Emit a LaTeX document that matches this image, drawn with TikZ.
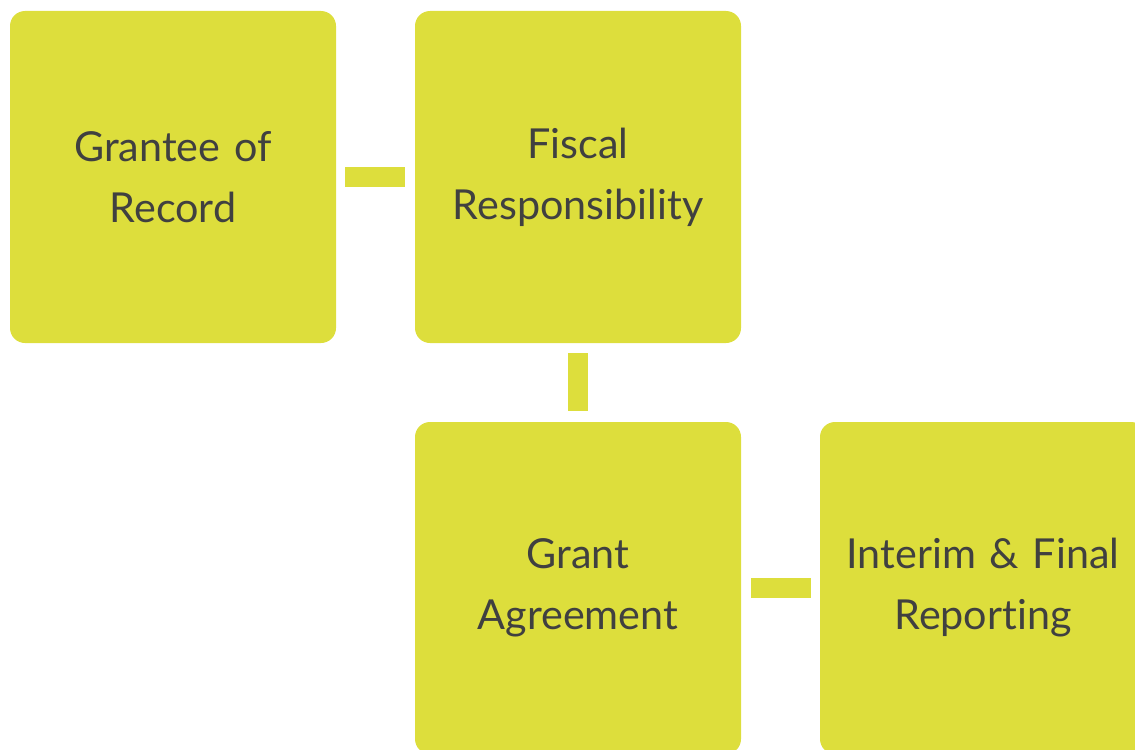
\documentclass[tikz,border=0pt]{standalone}
\usepackage{fontspec}
\setmainfont{Lato}[Ligatures=NoCommon]
\usetikzlibrary{shapes.geometric, arrows}
\definecolor{boxgreen}{RGB}{221,222,60}
\definecolor{boxtext}{RGB}{64,64,64}
\tikzstyle{stage} = [rectangle, rounded corners=0.3cm, minimum width=6.52cm,
minimum height=6.64cm, text centered, fill=boxgreen, text=boxtext,
text width=6cm, font=\fontsize{23.5}{34.7}\selectfont]
\tikzstyle{link} =
[draw=boxgreen, line width=0.41cm]

\begin{document}
\begin{tikzpicture}[node distance=8.1cm]

\useasboundingbox (0,0) rectangle (22.7,-14.98);

\node(grantee)[stage] at (3.46,-3.54){Grantee of\\Record};
\node(fiscal)[stage, right of=grantee]{Fiscal\\Responsibility};
\node(agreement)[stage, below of=fiscal, yshift=-0.12cm]{Grant\\Agreement};
\node(reporting)[stage, right of=agreement]{Interim \& Final\\Reporting};

\draw[link]([xshift=0.18cm]grantee.east) -- ([xshift=-0.2cm]fiscal.west);
\draw[link]([yshift=-0.2cm]fiscal.south) -- ([yshift=0.22cm]agreement.north);
\draw[link]([xshift=0.2cm]agreement.east) -- ([xshift=-0.18cm]reporting.west);

\end{tikzpicture}
\end{document}
